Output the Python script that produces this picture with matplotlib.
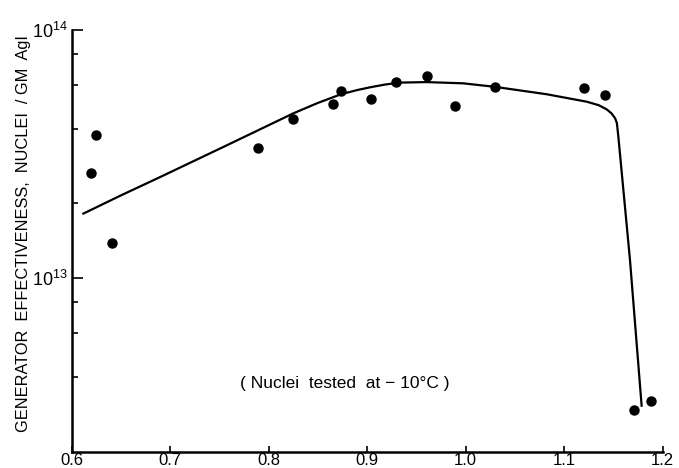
import matplotlib
matplotlib.use("Agg")
import matplotlib.pyplot as plt
from matplotlib.ticker import FixedLocator, NullFormatter

plt.rcParams['font.family'] = ['Liberation Sans', 'DejaVu Sans']
plt.rcParams['mathtext.fontset'] = 'custom'
plt.rcParams['mathtext.rm'] = 'Liberation Sans'
plt.rcParams['mathtext.it'] = 'Liberation Sans'

# Measured points (x, nuclei per gram AgI)
point_x = [0.6195, 0.625, 0.6414, 0.7893, 0.8245, 0.8657, 0.8735, 0.9037, 0.9293,
           0.9605, 0.9896, 1.0295, 1.120, 1.1415, 1.1709, 1.1881]
point_y = [2.64e13, 3.76e13, 1.39e13, 3.35e13, 4.38e13, 5.03e13, 5.66e13, 5.28e13, 6.18e13,
           6.50e13, 4.92e13, 5.89e13, 5.84e13, 5.48e13, 2.94e12, 3.20e12]

# Fitted curve
curve_x = [0.611, 0.65, 0.6898, 0.7575, 0.8251, 0.85, 0.8735, 0.89, 0.903, 0.918, 0.9334,
           0.9605, 0.9977, 1.0295, 1.0823, 1.1229, 1.135, 1.1432, 1.148, 1.1516, 1.1535,
           1.155, 1.1668, 1.1787]
curve_logy = [13.258, 13.333, 13.407, 13.535, 13.664, 13.706, 13.741, 13.758, 13.769,
              13.780, 13.788, 13.790, 13.785, 13.771, 13.741, 13.711, 13.697, 13.680,
              13.664, 13.645, 13.625, 13.570, 13.073, 12.481]
curve_y = [10 ** v for v in curve_logy]

x_ticks = [0.6, 0.7, 0.8, 0.9, 1.0, 1.1, 1.2]
x_tick_labels = ['0.6', '0.7', '0.8', '0.9', '1.0', '1.1', '1.2']
y_major = [1e13, 1e14]
y_major_labels = [r'$10^{13}$', r'$10^{14}$']
y_minor = [4e12, 6e12, 8e12, 2e13, 4e13, 6e13, 8e13]

ylabel = 'GENERATOR  EFFECTIVENESS,  NUCLEI  / GM  AgI'
note = '( Nuclei  tested  at − 10°C )'

fig = plt.figure(figsize=(6.79, 4.68), dpi=100)
ax = fig.add_axes([71.5 / 679, 1 - 451.5 / 468, (662.7 - 71.5) / 679, (451.5 - 30) / 468])

ax.plot(curve_x, curve_y, color='black', lw=1.6, solid_capstyle='butt',
        solid_joinstyle='round')
ax.plot(point_x, point_y, 'o', color='black', ms=6.5, mec='black')

ax.set_yscale('log')
ax.set_xlim(0.6, 1.2)
ax.set_ylim(2e12, 1e14)

ax.xaxis.set_major_locator(FixedLocator(x_ticks))
ax.set_xticklabels(x_tick_labels)
ax.yaxis.set_major_locator(FixedLocator(y_major))
ax.set_yticklabels(y_major_labels)
ax.yaxis.set_minor_locator(FixedLocator(y_minor))
ax.yaxis.set_minor_formatter(NullFormatter())

for s in ['top', 'right']:
    ax.spines[s].set_visible(False)
for s in ['left', 'bottom']:
    ax.spines[s].set_linewidth(1.8)

ax.tick_params(axis='x', which='major', direction='in', length=4, width=1.2,
               labelsize=12, pad=1)
ax.tick_params(axis='y', which='major', direction='in', length=8, width=1.2,
               labelsize=13, pad=3)
ax.tick_params(axis='y', which='minor', direction='in', length=4, width=1.2)

fig.text(24 / 679, 1 - 234 / 468, ylabel, rotation=90, ha='center', va='center',
         fontsize=11.8)
ax.text(0.4626, 0.1625, note, transform=ax.transAxes, ha='center', va='center',
        fontsize=12.5)

fig.savefig('out.png', dpi=100)
